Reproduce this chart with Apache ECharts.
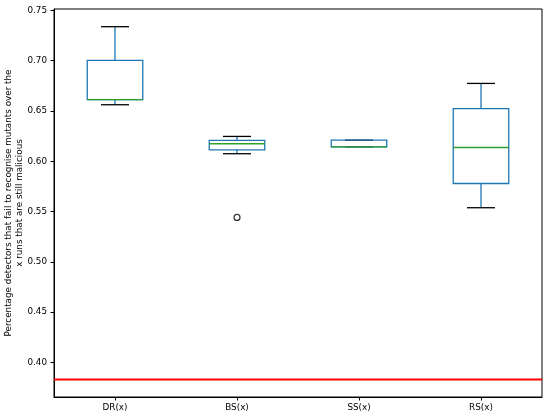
<!DOCTYPE html>
<html>
<head>
<meta charset="utf-8">
<script src="https://cdn.jsdelivr.net/npm/echarts@6/dist/echarts.min.js"></script>
<style>html,body{margin:0;padding:0;background:#fff;}#chart{width:550px;height:416px;}</style>
</head>
<body>
<div id="chart"></div>
<script>
const categories = ['DR(x)', 'BS(x)', 'SS(x)', 'RS(x)'];
const lowerWhisker = [0.6562, 0.6075, 0.6144, 0.5538];
const q1Values = [0.6612, 0.6114, 0.6144, 0.5779];
const medianValues = [0.6612, 0.6174, 0.6144, 0.6137];
const q3Values = [0.7003, 0.6207, 0.6210, 0.6523];
const upperWhisker = [0.7338, 0.6247, 0.6210, 0.6774];
const outlierPoints = [['BS(x)', 0.5442]];
const thresholdValue = 0.3830;
const yTickValues = [0.40, 0.45, 0.50, 0.55, 0.60, 0.65, 0.70, 0.75];
const yLabel = 'Percentage detectors that fail to recognise mutants over the\nx runs that are still malicious';

const boxData = categories.map((c, i) => [i, lowerWhisker[i], q1Values[i], medianValues[i], q3Values[i], upperWhisker[i]]);

const BLUE = '#1f77b4', GREEN = '#2ca02c';
const LW = 1.3;
const FS = 8.8;

function renderBox(params, api) {
  const idx = api.value(0);
  const bandW = api.size([1, 0])[0];
  const halfBox = bandW * 0.455 / 2;
  const halfCap = bandW * 0.23 / 2;
  const pMin = api.coord([idx, api.value(1)]);
  const pQ1 = api.coord([idx, api.value(2)]);
  const pMed = api.coord([idx, api.value(3)]);
  const pQ3 = api.coord([idx, api.value(4)]);
  const pMax = api.coord([idx, api.value(5)]);
  const x = pMin[0];
  const line = (x1, y1, x2, y2, color) => ({
    type: 'line', shape: {x1, y1, x2, y2},
    style: {stroke: color, lineWidth: LW}
  });
  return {
    type: 'group',
    children: [
      line(x, pMin[1], x, pQ1[1], BLUE),
      line(x, pQ3[1], x, pMax[1], BLUE),
      line(x - halfCap, pMin[1], x + halfCap, pMin[1], '#000'),
      line(x - halfCap, pMax[1], x + halfCap, pMax[1], '#000'),
      {type: 'rect', shape: {x: x - halfBox, y: pQ3[1], width: halfBox * 2, height: pQ1[1] - pQ3[1]},
       style: {fill: 'none', stroke: BLUE, lineWidth: LW}},
      line(x - halfBox, pMed[1], x + halfBox, pMed[1], GREEN)
    ]
  };
}

function renderThreshold(params, api) {
  const cs = params.coordSys;
  const y = api.coord([0, api.value(1)])[1];
  return {
    type: 'line', shape: {x1: cs.x, y1: y, x2: cs.x + cs.width, y2: y},
    style: {stroke: '#ff0000', lineWidth: 2}
  };
}

const chart = echarts.init(document.getElementById('chart'), null, {renderer: 'canvas'});
chart.setOption({
  animation: false,
  backgroundColor: '#fff',
  textStyle: {fontFamily: 'DejaVu Sans'},
  grid: {left: 54, right: 8, top: 9, bottom: 19, containLabel: false, outerBoundsMode: 'none',
    show: true, borderColor: '#000', borderWidth: 1, backgroundColor: '#fff'},
  xAxis: {
    type: 'category', data: categories, boundaryGap: true,
    axisLine: {show: true, lineStyle: {color: '#000', width: 1}},
    axisTick: {show: true, alignWithLabel: true, length: 3.5, lineStyle: {color: '#000'}},
    axisLabel: {color: '#000', fontSize: FS, margin: 6, fontFamily: 'DejaVu Sans'},
    splitLine: {show: false}
  },
  yAxis: {
    type: 'value', min: 0.3656, max: 0.7514,
    name: yLabel, nameLocation: 'middle', nameGap: 29, nameMoveOverlap: false,
    nameTextStyle: {color: '#000', fontSize: FS, lineHeight: 11, fontFamily: 'DejaVu Sans', align: 'center'},
    axisLine: {show: true, lineStyle: {color: '#000', width: 1}},
    axisTick: {show: true, length: 3.5, lineStyle: {color: '#000'}, customValues: yTickValues},
    axisLabel: {color: '#000', fontSize: FS, margin: 7, fontFamily: 'DejaVu Sans', customValues: yTickValues,
      formatter: v => v.toFixed(2)},
    splitLine: {show: false}
  },
  series: [
    {
      type: 'custom', renderItem: renderThreshold, data: [[0, thresholdValue]],
      encode: {x: 0, y: 1}, z: 2, clip: false
    },
    {
      type: 'custom', renderItem: renderBox, data: boxData,
      encode: {x: 0, y: [1, 2, 3, 4, 5]}, z: 3
    },
    {
      type: 'scatter', data: outlierPoints, symbol: 'circle', symbolSize: 6,
      itemStyle: {color: '#fff', borderColor: '#000', borderWidth: 1.2}, z: 4
    }
  ]
});
</script>
</body>
</html>
